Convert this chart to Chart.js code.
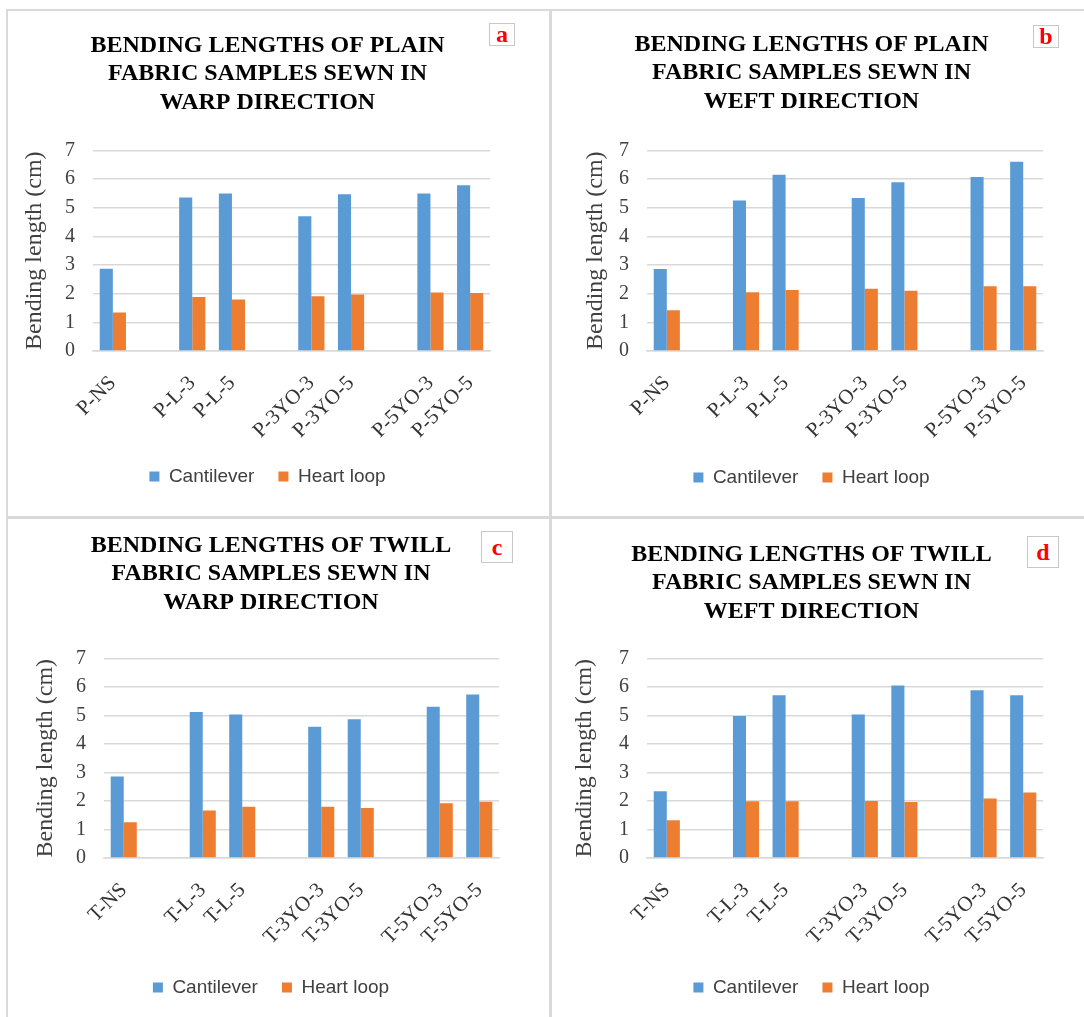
<!DOCTYPE html>
<html>
<head>
<meta charset="utf-8">
<script src="https://cdn.jsdelivr.net/npm/chart.js@4.4.1/dist/chart.umd.min.js"></script>
<style>
body{margin:0;background:#fff;}
#page{position:relative;width:1084px;height:1017px;overflow:hidden;background:#fff;}
.line{position:absolute;background:#d9d9d9;}
.panel{position:absolute;}
.panel canvas{position:absolute;left:0;top:0;}
.tag{position:absolute;border:1px solid #c8c8c8;background:#fff;color:#f00;font:bold 24px 'Liberation Serif',serif;text-align:center;box-sizing:border-box;}
</style>
</head>
<body>
<div id="page">
  <div class="line" style="left:6px;top:9px;width:1078px;height:2px"></div>
  <div class="line" style="left:6px;top:9px;width:2px;height:1008px"></div>
  <div class="line" style="left:549px;top:9px;width:3px;height:1008px"></div>
  <div class="line" style="left:6px;top:516px;width:1078px;height:3px"></div>

  <div class="panel" style="left:8px;top:11px;width:541px;height:505px">
    <canvas id="chartA" width="541" height="505"></canvas>
    <div class="tag" style="left:481px;top:12px;width:26px;height:23px;line-height:20px">a</div>
  </div>
  <div class="panel" style="left:552px;top:11px;width:532px;height:505px">
    <canvas id="chartB" width="532" height="505"></canvas>
    <div class="tag" style="left:481px;top:14px;width:26px;height:23px;line-height:20px">b</div>
  </div>
  <div class="panel" style="left:8px;top:519px;width:541px;height:498px">
    <canvas id="chartC" width="541" height="498"></canvas>
    <div class="tag" style="left:473px;top:12px;width:32px;height:32px;line-height:30px">c</div>
  </div>
  <div class="panel" style="left:552px;top:519px;width:532px;height:498px">
    <canvas id="chartD" width="532" height="498"></canvas>
    <div class="tag" style="left:475px;top:17px;width:32px;height:32px;line-height:30px">d</div>
  </div>
</div>

<script>
// category labels (empty strings are the gaps between groups)
const plainLabels = ['P-NS', '', 'P-L-3', 'P-L-5', '', 'P-3YO-3', 'P-3YO-5', '', 'P-5YO-3', 'P-5YO-5'];
const twillLabels = ['T-NS', '', 'T-L-3', 'T-L-5', '', 'T-3YO-3', 'T-3YO-5', '', 'T-5YO-3', 'T-5YO-5'];

const seriesNames = ['Cantilever', 'Heart loop'];

// bending lengths (cm)
const plainWarpCantilever = [2.87, null, 5.36, 5.50, null, 4.70, 5.47, null, 5.50, 5.78];
const plainWarpHeartLoop  = [1.34, null, 1.88, 1.80, null, 1.91, 1.97, null, 2.04, 2.02];

const plainWeftCantilever = [2.86, null, 5.25, 6.15, null, 5.34, 5.89, null, 6.07, 6.60];
const plainWeftHeartLoop  = [1.42, null, 2.05, 2.13, null, 2.17, 2.10, null, 2.26, 2.26];

const twillWarpCantilever = [2.86, null, 5.12, 5.03, null, 4.60, 4.87, null, 5.30, 5.73];
const twillWarpHeartLoop  = [1.25, null, 1.67, 1.80, null, 1.80, 1.75, null, 1.92, 1.97];

const twillWeftCantilever = [2.34, null, 4.98, 5.71, null, 5.03, 6.05, null, 5.88, 5.71];
const twillWeftHeartLoop  = [1.32, null, 1.99, 1.99, null, 2.00, 1.96, null, 2.09, 2.30];

const yTickMin = 0;
const yTickMax = 7;
const yTickStep = 1;

const serif = "'Liberation Serif', 'Times New Roman', serif";
const sans = "'Liberation Sans', Arial, sans-serif";

function makeChart(id, labels, cantilever, heartLoop, title, lay) {
  return new Chart(document.getElementById(id), {
    type: 'bar',
    data: {
      labels: labels,
      datasets: [{
        label: seriesNames[0],
        data: cantilever,
        backgroundColor: '#5b9bd5',
        borderWidth: 0,
        categoryPercentage: 0.66,
        barPercentage: 1.0
      }, {
        label: seriesNames[1],
        data: heartLoop,
        backgroundColor: '#ed7d31',
        borderWidth: 0,
        categoryPercentage: 0.66,
        barPercentage: 1.0
      }]
    },
    options: {
      responsive: false,
      animation: false,
      devicePixelRatio: 1,
      layout: {
        padding: {left: lay.padL, right: lay.padR, top: 0, bottom: lay.padB}
      },
      scales: {
        x: {
          grid: {display: false, drawTicks: false},
          border: {color: '#d9d9d9', width: 1.5},
          ticks: {
            autoSkip: false,
            minRotation: 45,
            maxRotation: 45,
            padding: lay.xPad,
            color: '#333',
            font: {family: serif, size: 21}
          },
          afterFit: function(s) { s.height = lay.xH; }
        },
        y: {
          min: yTickMin,
          max: yTickMax,
          ticks: {
            stepSize: yTickStep,
            padding: 18,
            color: '#404040',
            font: {family: serif, size: 20}
          },
          grid: {color: '#d9d9d9', lineWidth: 1.5, drawTicks: false},
          border: {display: false},
          title: {
            display: true,
            text: 'Bending length (cm)',
            color: '#404040',
            font: {family: serif, size: 24},
            padding: {top: lay.yTitlePad, bottom: 0}
          },
          afterFit: function(s) { s.width = lay.yW; }
        }
      },
      plugins: {
        title: {
          display: true,
          text: title,
          color: '#000',
          font: {family: serif, size: 24, weight: 'bold', lineHeight: 1.2},
          padding: {top: lay.tTop, bottom: lay.tBottom}
        },
        legend: {
          position: 'bottom',
          labels: {
            boxWidth: 10,
            boxHeight: 10,
            padding: 24,
            color: '#404040',
            font: {family: sans, size: 19}
          }
        },
        tooltip: {enabled: false}
      }
    }
  });
}

makeChart('chartA', plainLabels, plainWarpCantilever, plainWarpHeartLoop,
  ['BENDING LENGTHS OF PLAIN', 'FABRIC SAMPLES SEWN IN', 'WARP DIRECTION'],
  {padL: 37, padR: 59, padB: 20, xH: 92, xPad: 20, yW: 48, yTitlePad: -25, tTop: 20, tBottom: 33});

makeChart('chartB', plainLabels, plainWeftCantilever, plainWeftHeartLoop,
  ['BENDING LENGTHS OF PLAIN', 'FABRIC SAMPLES SEWN IN', 'WEFT DIRECTION'],
  {padL: 28, padR: 41, padB: 19, xH: 93, xPad: 20, yW: 67, yTitlePad: 1, tTop: 19, tBottom: 34});

makeChart('chartC', twillLabels, twillWarpCantilever, twillWarpHeartLoop,
  ['BENDING LENGTHS OF TWILL', 'FABRIC SAMPLES SEWN IN', 'WARP DIRECTION'],
  {padL: 35, padR: 50, padB: 10, xH: 96, xPad: 20, yW: 61, yTitlePad: -12, tTop: 12, tBottom: 41});

makeChart('chartD', twillLabels, twillWeftCantilever, twillWeftHeartLoop,
  ['BENDING LENGTHS OF TWILL', 'FABRIC SAMPLES SEWN IN', 'WEFT DIRECTION'],
  {padL: 28, padR: 41, padB: 10, xH: 96, xPad: 20, yW: 67, yTitlePad: -10, tTop: 21, tBottom: 32});
</script>
</body>
</html>
